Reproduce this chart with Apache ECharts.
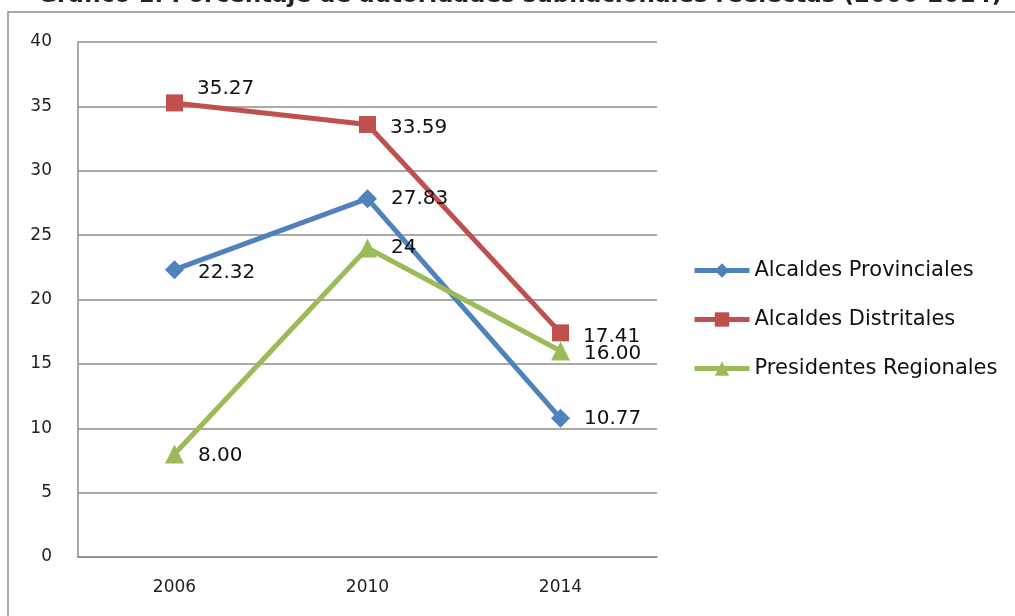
<!DOCTYPE html>
<html>
<head>
<meta charset="utf-8">
<script src="https://cdn.jsdelivr.net/npm/echarts@6/dist/echarts.min.js"></script>
<style>html,body{margin:0;padding:0;background:#fff}#c{width:1015px;height:616px}</style>
</head>
<body>
<div id="c"></div>
<script>
const categories = ['2006', '2010', '2014'];
const provinciales = [22.32, 27.83, 10.77];
const distritales = [35.27, 33.59, 17.41];
const regionales = [8.00, 24, 16.00];
const provincialesLabels = ['22.32', '27.83', '10.77'];
const distritalesLabels = ['35.27', '33.59', '17.41'];
const regionalesLabels = ['8.00', '24', '16.00'];
const seriesNames = ['Alcaldes Provinciales', 'Alcaldes Distritales', 'Presidentes Regionales'];
const titleText = 'Gráfico 1: Porcentaje de autoridades subnacionales reelectas (2006-2014)';

const font = 'DejaVu Sans';
function mk(values, labels, offsets) {
  return values.map((v, i) => ({
    value: v,
    label: { formatter: labels[i], offset: offsets[i] }
  }));
}
const chart = echarts.init(document.getElementById('c'));
const lbl = { show: true, position: 'right', distance: 14, fontFamily: font, fontSize: 20, color: '#111' };
chart.setOption({
  animation: false,
  graphic: [
    { type: 'rect', shape: { x: 8, y: 12, width: 1020, height: 620 }, style: { fill: 'none', stroke: '#8c8c8c', lineWidth: 1.5 } },
    { type: 'text', left: 38, top: -15, style: { text: titleText, font: 'bold 23px "DejaVu Sans"', fill: '#222' } }
  ],
  grid: { left: 78, top: 42, width: 579, height: 515 },
  legend: {
    orient: 'vertical', left: 692, top: 260, padding: 0, itemWidth: 55, itemHeight: 18, itemGap: 28,
    lineStyle: { width: 5 },
    textStyle: { fontFamily: font, fontSize: 21, color: '#111' },
    data: seriesNames
  },
  xAxis: {
    type: 'category', data: categories, boundaryGap: true,
    axisLine: { lineStyle: { color: '#8c8c8c', width: 1.5 } },
    axisTick: { show: false },
    axisLabel: { fontFamily: font, fontSize: 17, color: '#222', margin: 22 }
  },
  yAxis: {
    type: 'value', min: 0, max: 40, interval: 5,
    axisLine: { show: true, lineStyle: { color: '#8c8c8c', width: 1.5 } },
    axisTick: { show: false },
    splitLine: { lineStyle: { color: '#8c8c8c', width: 1.5 } },
    axisLabel: { fontFamily: font, fontSize: 17, color: '#222', margin: 26 }
  },
  series: [
    { name: seriesNames[0], type: 'line', symbol: 'diamond', symbolSize: 19,
      lineStyle: { color: '#4F81BD', width: 5 }, itemStyle: { color: '#4F81BD' },
      label: lbl, data: mk(provinciales, provincialesLabels, [[0, 3], [0, 0], [0, 0]]) },
    { name: seriesNames[1], type: 'line', symbol: 'rect', symbolSize: 17,
      lineStyle: { color: '#C0504D', width: 5 }, itemStyle: { color: '#C0504D' },
      label: lbl, data: mk(distritales, distritalesLabels, [[0, -14], [0, 3], [0, 4]]) },
    { name: seriesNames[2], type: 'line', symbol: 'triangle', symbolSize: 19,
      lineStyle: { color: '#9BBB59', width: 5 }, itemStyle: { color: '#9BBB59' },
      label: lbl, data: mk(regionales, regionalesLabels, [[0, 2], [0, 0], [0, 3]]) }
  ]
});
</script>
</body>
</html>
